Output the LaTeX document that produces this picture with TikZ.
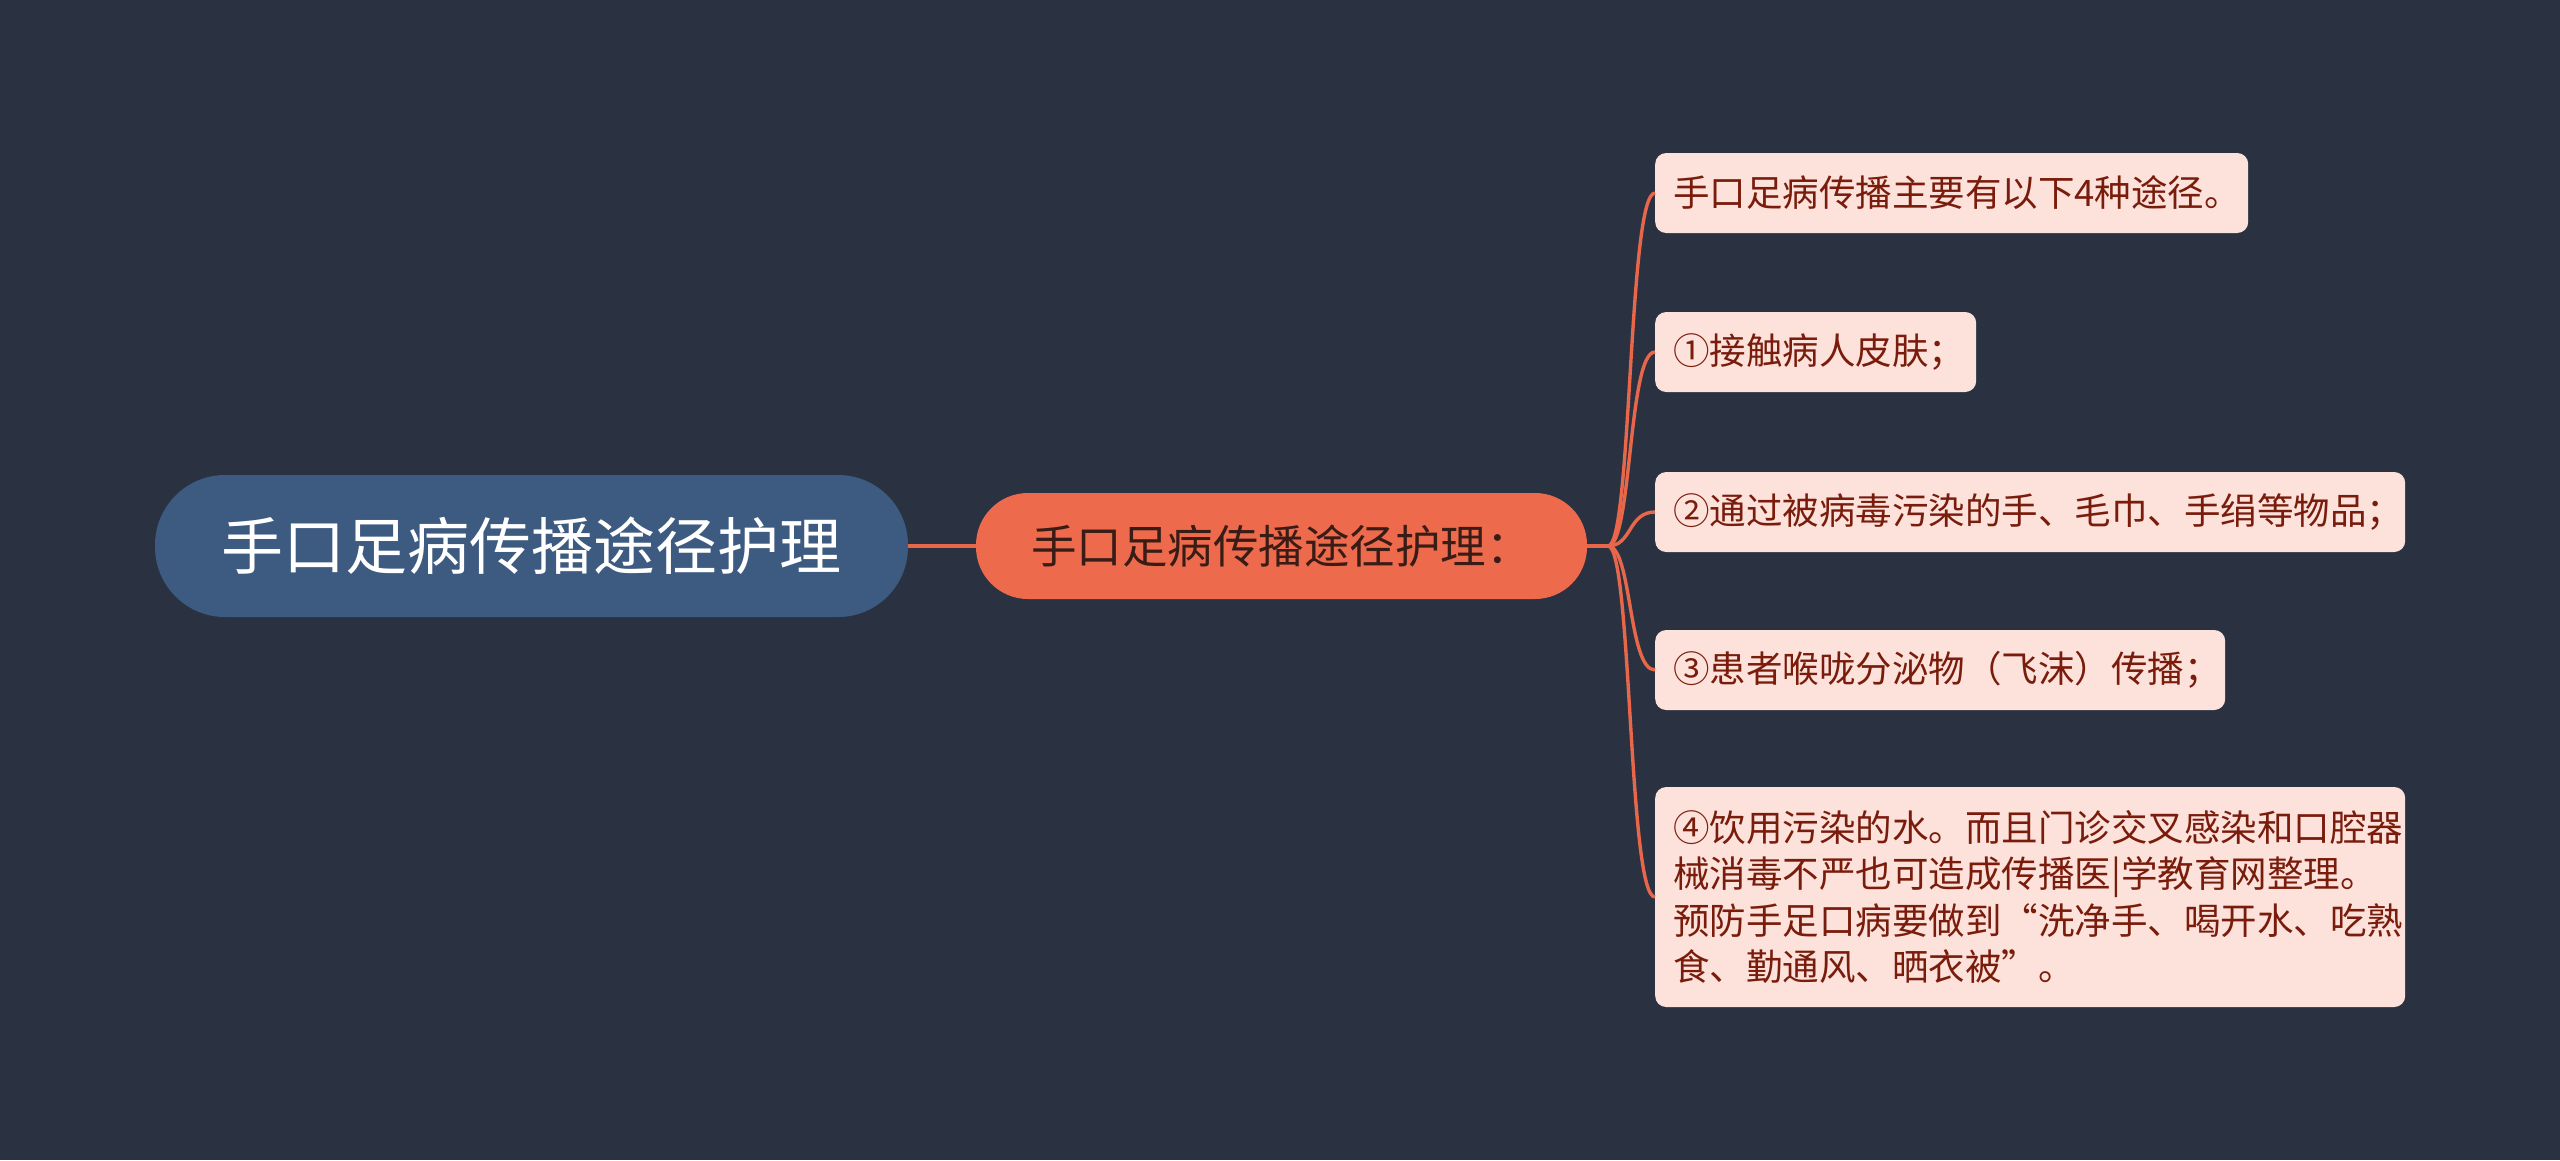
\documentclass[tikz,border=0pt]{standalone}
\usepackage{fontspec}
\setmainfont{Noto Sans CJK SC}
\definecolor{bgc}{HTML}{2A3241}
\definecolor{rootc}{HTML}{3D5A80}
\definecolor{midc}{HTML}{EE6A4C}
\definecolor{leafc}{HTML}{FCE2DB}
\definecolor{leaftxt}{HTML}{7A1C0C}
\definecolor{midtxt}{HTML}{3A1C16}
\definecolor{linec}{HTML}{E8664A}
\begin{document}
\begin{tikzpicture}[x=1pt,y=-1pt,
  rootbox/.style={fill=rootc, rounded corners=70pt, minimum width=753pt, minimum height=142pt, inner sep=0pt, text=white, font=\fontsize{62}{74}\selectfont},
  midbox/.style={fill=midc, rounded corners=52pt, minimum width=611pt, minimum height=106pt, inner sep=0pt, text=midtxt, font=\fontsize{45.5}{54}\selectfont},
  leafbox/.style={fill=leafc, rounded corners=11pt, anchor=west, minimum height=80pt, inner xsep=18pt, inner ysep=0pt, align=left, text=leaftxt, font=\fontsize{36.5}{46.5}\selectfont},
  conn/.style={draw=linec, line width=3.4pt}
]
\fill[bgc] (0,0) rectangle (2560,1160);
\useasboundingbox (0,0) rectangle (2560,1160);
\node[rootbox] (root) at (531.5,546) {手口足病传播途径护理};
\node[midbox] (mid) at (1281.5,546) {手口足病传播途径护理：};
\node[leafbox, text width=557pt] (l1) at (1655,193) {手口足病传播主要有以下4种途径。};
\node[leafbox, text width=285pt] (l2) at (1655,352) {①接触病人皮肤；};
\node[leafbox, text width=714pt] (l3) at (1655,512) {②通过被病毒污染的手、毛巾、手绢等物品；};
\node[leafbox, text width=534pt] (l4) at (1655,670) {③患者喉咙分泌物（飞沫）传播；};
\node[leafbox, text width=714pt, minimum height=220pt] (l5) at (1655,897) {④饮用污染的水。而且门诊交叉感染和口腔器\\械消毒不严也可造成传播医|学教育网整理。\\预防手足口病要做到“洗净手、喝开水、吃熟\\食、勤通风、晒衣被”。};
\coordinate (J) at (1608,546);
\draw[conn] (root.east) -- (mid.west);
\draw[conn] (mid.east) -- (J);
\foreach \l in {l1,l2,l3,l4,l5}{
  \draw[conn] (J) .. controls (1632,546) and (1628,546 |- \l.west) .. (\l.west);
}
\end{tikzpicture}
\end{document}
